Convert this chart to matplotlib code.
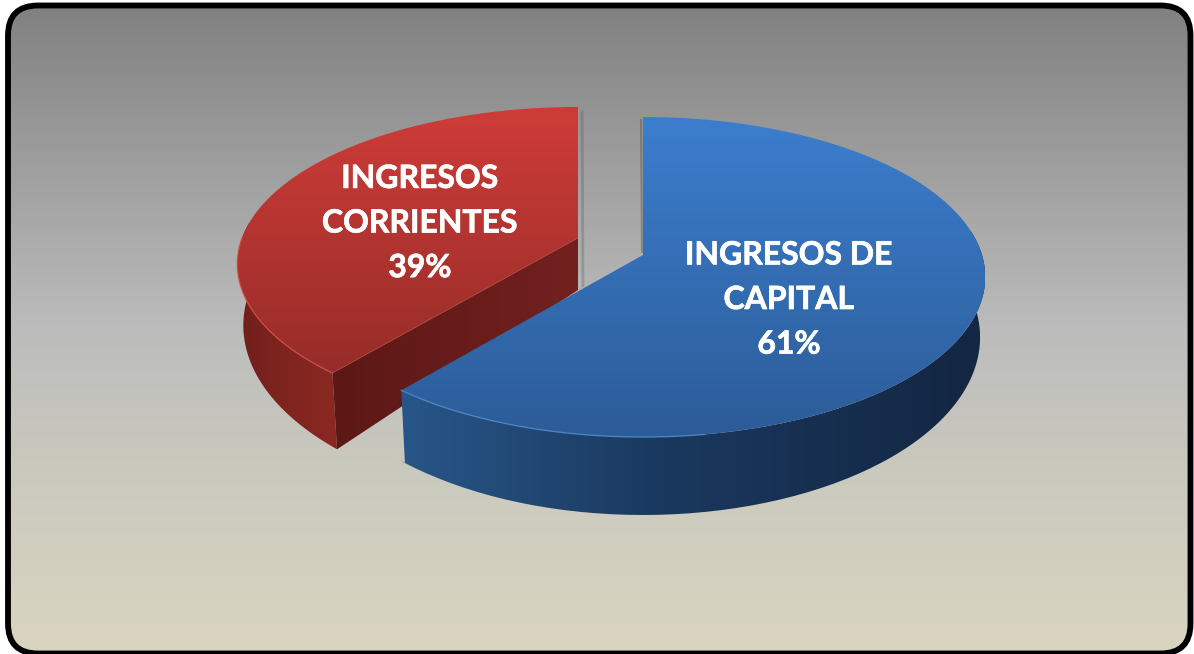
import numpy as np
import matplotlib
matplotlib.use("Agg")
import matplotlib.pyplot as plt
import matplotlib.patheffects as pe
from matplotlib.patches import FancyBboxPatch, PathPatch, Polygon
from matplotlib.path import Path

# data
categories = ["INGRESOS DE\nCAPITAL", "INGRESOS\nCORRIENTES"]
shares = [61, 39]

W, H = 1194, 654
VANISH_X = 640.0
BLUE_SHAPE = dict(rx=339.0, ry=157.0, k=0.1375)
RED_SHAPE = dict(rx=336.0, ry=152.8, k=0.166)


def project(theta, cx, cy, depth=0.0, rx=339.0, ry=157.0, k=0.1375):
    """Pie angle (clockwise from the back) to pixel, with a little perspective"""
    v = np.cos(theta)
    s = 1.0 / (1.0 + k * v)
    x = cx + rx * np.sin(theta) * s
    y = cy - ry * v * s + depth * s * s
    if depth:
        x = VANISH_X + (x - VANISH_X) * (1 - 0.015 * depth / 58.0)
    return x, y


def grad_fill(ax, verts, stops, colors, horizontal=False, zorder=2):
    verts = np.asarray(verts)
    patch = PathPatch(Path(verts, closed=False), fc="none", ec="none", zorder=zorder)
    ax.add_patch(patch)
    x0, x1 = verts[:, 0].min(), verts[:, 0].max()
    y0, y1 = verts[:, 1].min(), verts[:, 1].max()
    t = np.linspace(0, 1, 256)
    rgb = np.stack([np.interp(t, stops, [c[i] / 255 for c in colors]) for i in range(3)], axis=-1)
    img = rgb[None, :, :] if horizontal else rgb[:, None, :]
    im = ax.imshow(img, extent=(x0, x1, y1, y0), aspect="auto", origin="upper",
                   interpolation="bilinear", zorder=zorder)
    im.set_clip_path(patch)


def wall(cx, cy, a0, a1, shape, depth=58.0, n=120):
    th = np.linspace(a0, a1, n)
    x, y = project(th, cx, cy, **shape)
    xb, yb = project(th[::-1], cx, cy, depth, **shape)
    return np.vstack([np.c_[x, y], np.c_[xb, yb], [[x[0], y[0]]]])


def top_face(cx, cy, a0, a1, shape, n=200):
    th = np.linspace(a0, a1, n)
    x, y = project(th, cx, cy, **shape)
    return np.vstack([[[cx, cy]], np.c_[x, y], [[cx, cy]]])


fig = plt.figure(figsize=(W / 100, H / 100), dpi=100)
ax = fig.add_axes([0, 0, 1, 1])
ax.set_xlim(0, W)
ax.set_ylim(H, 0)

# rounded frame with the vertical gradient behind it
frame_xy, frame_w, frame_h = (8, 5.5), 1182.5, 648
round_box = "round,pad=0,rounding_size=30"
frame = FancyBboxPatch(frame_xy, frame_w, frame_h, boxstyle=round_box, fc="none", ec="none", zorder=1)
ax.add_patch(frame)
t = np.linspace(0, 1, 256)
bg_stops = [0, 0.5, 0.72, 1]
bg_cols = [(128, 128, 128), (188, 188, 188), (202, 201, 190), (217, 213, 192)]
bg = np.stack([np.interp(t, bg_stops, [c[i] / 255 for c in bg_cols]) for i in range(3)], axis=-1)
im = ax.imshow(bg[:, None, :], extent=(0, W, H, 0), aspect="auto", origin="upper", zorder=1)
im.set_clip_path(frame)
ax.add_patch(FancyBboxPatch(frame_xy, frame_w, frame_h, boxstyle=round_box,
                            fc="none", ec="black", lw=4.2, zorder=6))

split = 2 * np.pi * shares[0] / sum(shares)
blue_c = (643.0, 255.0)
red_c = (578.0, 238.0)

# soft shadows on the background
px, py = project(split, *blue_c, 58.0, **BLUE_SHAPE)
ax.add_patch(Polygon([[px - 6, py - 2], [px + 14, py + 2], [px + 24, py + 12]], fc="#555555",
                     ec="none", alpha=0.2, zorder=2))
ax.plot([582, 583], [112, 286], color="#444444", lw=2, alpha=0.25, zorder=2)
ax.plot([641, 642], [120, 252], color="#333333", lw=1.5, alpha=0.3, zorder=5)

# red slice, exploded up and to the left
grad_fill(ax, wall(*red_c, split, 1.5 * np.pi + 0.1, RED_SHAPE), [0, 0.4, 1],
          [(112, 30, 28), (125, 35, 30), (140, 40, 34)], horizontal=True, zorder=3)
rx0, ry0 = project(split, *red_c, **RED_SHAPE)
rxb, ryb = project(split, *red_c, 58.0, **RED_SHAPE)
cut = [[red_c[0], red_c[1]], [rx0, ry0], [rxb, ryb], [red_c[0], red_c[1] + 52], [red_c[0], red_c[1]]]
grad_fill(ax, cut, [0, 1], [(92, 24, 22), (114, 33, 31)], horizontal=True, zorder=3)
red_top = top_face(*red_c, split, 2 * np.pi, RED_SHAPE)
grad_fill(ax, red_top, [0, 1], [(207, 60, 56), (150, 44, 40)], zorder=4)
th = np.linspace(split, 1.5 * np.pi, 60)
ax.plot(*project(th, *red_c, **RED_SHAPE), color="#d8544e", lw=1.0, alpha=0.7, zorder=4)
ax.plot([rx0, red_c[0]], [ry0, red_c[1]], color="#c04a44", lw=0.8, alpha=0.5, zorder=4)

# blue slice
grad_fill(ax, wall(*blue_c, 0.45 * np.pi, split, BLUE_SHAPE), [0, 0.45, 1],
          [(40, 86, 136), (26, 56, 94), (19, 38, 66)], horizontal=True, zorder=3)
blue_top = top_face(*blue_c, 0, split, BLUE_SHAPE)
grad_fill(ax, blue_top, [0, 1], [(60, 126, 206), (44, 92, 152)], zorder=4)
th = np.linspace(0.95 * np.pi, split, 80)
ax.plot(*project(th, *blue_c, **BLUE_SHAPE), color="#4f8ad0", lw=1.0, alpha=0.8, zorder=4)

# labels
label_pos = [(789, 299.5), (420, 223)]
for name, share, (lx, ly) in zip(categories, shares, label_pos):
    ax.text(lx, ly, f"{name}\n{share}%", color="white", family="Lato", weight="bold",
            fontsize=23, ha="center", va="center", linespacing=1.65, zorder=5,
            path_effects=[pe.withStroke(linewidth=0.5, foreground="white")])

ax.set_xlim(0, W)
ax.set_ylim(H, 0)
ax.axis("off")
fig.savefig("out.png", dpi=100, facecolor="white")
